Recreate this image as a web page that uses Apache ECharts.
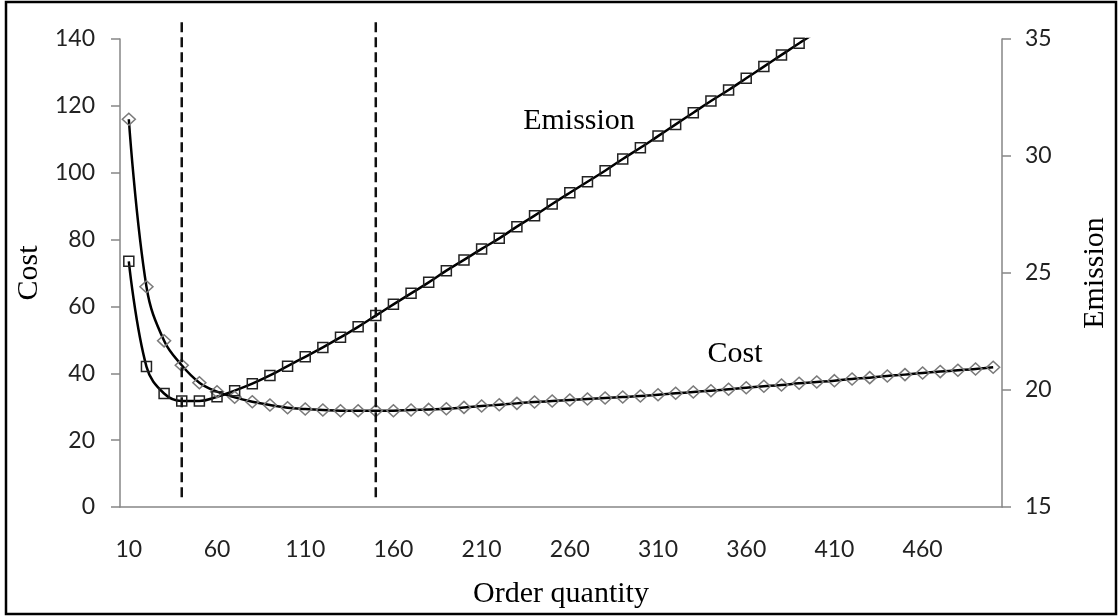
<!DOCTYPE html>
<html>
<head>
<meta charset="utf-8">
<script src="https://cdn.jsdelivr.net/npm/echarts@6/dist/echarts.min.js"></script>
<style>
  html, body { margin: 0; padding: 0; background: #fff; }
  #chart { width: 1118px; height: 616px; }
</style>
</head>
<body>
<div id="chart"></div>
<script>
// order quantity categories (10 .. 500 step 10)
let quantities = ['10','20','30','40','50','60','70','80','90','100',
  '110','120','130','140','150','160','170','180','190','200',
  '210','220','230','240','250','260','270','280','290','300',
  '310','320','330','340','350','360','370','380','390','400',
  '410','420','430','440','450','460','470','480','490','500'];

// cost (left axis)
let cost = [116.0, 65.9, 49.7, 42.4, 37.2, 34.5, 32.8, 31.5, 30.5, 29.7,
  29.3, 29.0, 28.8, 28.8, 28.8, 28.8, 29.0, 29.2, 29.4, 29.8,
  30.2, 30.6, 31.0, 31.4, 31.7, 32.0, 32.3, 32.6, 32.9, 33.2,
  33.6, 34.0, 34.4, 34.8, 35.2, 35.7, 36.1, 36.5, 37.0, 37.4,
  37.8, 38.3, 38.7, 39.2, 39.6, 40.1, 40.5, 40.9, 41.3, 41.8];

// emission (right axis), runs off the top after 390
let emission = [25.5, 21.0, 19.85, 19.53, 19.53, 19.71, 19.97, 20.27, 20.62, 21.02,
  21.42, 21.82, 22.25, 22.7, 23.18, 23.66, 24.13, 24.6, 25.1, 25.56,
  26.03, 26.48, 26.98, 27.45, 27.95, 28.43, 28.9, 29.37, 29.87, 30.35,
  30.85, 31.35, 31.85, 32.35, 32.82, 33.32, 33.82, 34.32, 34.82, 35.3];

// dashed vertical markers
let cutoffs = ['40', '150'];

let serif = '"Liberation Serif", "Times New Roman", serif';
let sans = 'Lato, "Noto Sans", sans-serif';
let axisGray = '#868686';

let myChart = echarts.init(document.getElementById('chart'));

myChart.setOption({
  backgroundColor: '#ffffff',
  animation: false,
  grid: { left: 120, right: 111, top: 39, bottom: 109 },
  xAxis: {
    type: 'category',
    data: quantities,
    boundaryGap: true,
    name: 'Order quantity',
    nameLocation: 'middle',
    nameGap: 72,
    nameTextStyle: { fontFamily: serif, fontSize: 30, color: '#000' },
    axisLine: { lineStyle: { color: axisGray, width: 1.5 } },
    axisTick: { interval: 4, length: 9, lineStyle: { color: axisGray, width: 1.5 } },
    axisLabel: { interval: 4, margin: 31, fontFamily: sans, fontSize: 23, color: '#222' },
    splitLine: { show: false }
  },
  yAxis: [
    {
      type: 'value',
      min: 0, max: 140, interval: 20,
      name: 'Cost',
      nameLocation: 'middle',
      nameRotate: 90,
      nameGap: 76,
      nameTextStyle: { fontFamily: serif, fontSize: 30, color: '#000' },
      axisLine: { show: true, lineStyle: { color: axisGray, width: 1.5 } },
      axisTick: { show: true, length: 9, lineStyle: { color: axisGray, width: 1.5 } },
      axisLabel: { margin: 25, fontFamily: sans, fontSize: 23, color: '#222' },
      splitLine: { show: false }
    },
    {
      type: 'value',
      position: 'right',
      min: 15, max: 35, interval: 5,
      name: 'Emission',
      nameLocation: 'middle',
      nameRotate: 90,
      nameGap: 78,
      nameTextStyle: { fontFamily: serif, fontSize: 30, color: '#000' },
      axisLine: { show: true, lineStyle: { color: axisGray, width: 1.5 } },
      axisTick: { show: true, length: 9, lineStyle: { color: axisGray, width: 1.5 } },
      axisLabel: { margin: 23, fontFamily: sans, fontSize: 23, color: '#222' },
      splitLine: { show: false }
    }
  ],
  series: [
    {
      name: 'Cost',
      type: 'line',
      yAxisIndex: 0,
      data: cost,
      smooth: 0.4,
      showAllSymbol: true,
      symbol: 'diamond',
      symbolSize: [13, 12],
      lineStyle: { color: '#000', width: 2.5 },
      itemStyle: { color: 'rgba(0,0,0,0)', borderColor: '#7a7a7a', borderWidth: 1.5 },
      z: 3
    },
    {
      name: 'Emission',
      type: 'line',
      yAxisIndex: 1,
      data: emission,
      smooth: 0.4,
      showAllSymbol: true,
      symbol: 'rect',
      symbolSize: 10,
      lineStyle: { color: '#000', width: 2.5 },
      itemStyle: { color: 'rgba(0,0,0,0)', borderColor: '#222', borderWidth: 1.5 },
      z: 3
    }
  ]
});

// dashed lines reach a little past the plot area, so draw them as graphics
let lines = cutoffs.map(function (q) {
  let top = myChart.convertToPixel({xAxisIndex: 0, yAxisIndex: 0}, [q, 145]);
  let bottom = myChart.convertToPixel({xAxisIndex: 0, yAxisIndex: 0}, [q, 1.5]);
  return {
    type: 'line',
    shape: { x1: top[0], y1: top[1], x2: bottom[0], y2: bottom[1] },
    style: { stroke: '#111', lineWidth: 2.5, lineDash: [10, 5] },
    z: 10
  };
});

myChart.setOption({
  graphic: lines.concat([
    {
      type: 'text', x: 579, y: 121,
      style: { text: 'Emission', font: '30px ' + serif, fill: '#000', align: 'center', verticalAlign: 'middle' }
    },
    {
      type: 'text', x: 735, y: 354,
      style: { text: 'Cost', font: '30px ' + serif, fill: '#000', align: 'center', verticalAlign: 'middle' }
    },
    {
      type: 'rect',
      shape: { x: 6, y: 2, width: 1110, height: 612 },
      style: { fill: 'none', stroke: '#000', lineWidth: 2.5 }
    }
  ])
});
</script>
</body>
</html>
